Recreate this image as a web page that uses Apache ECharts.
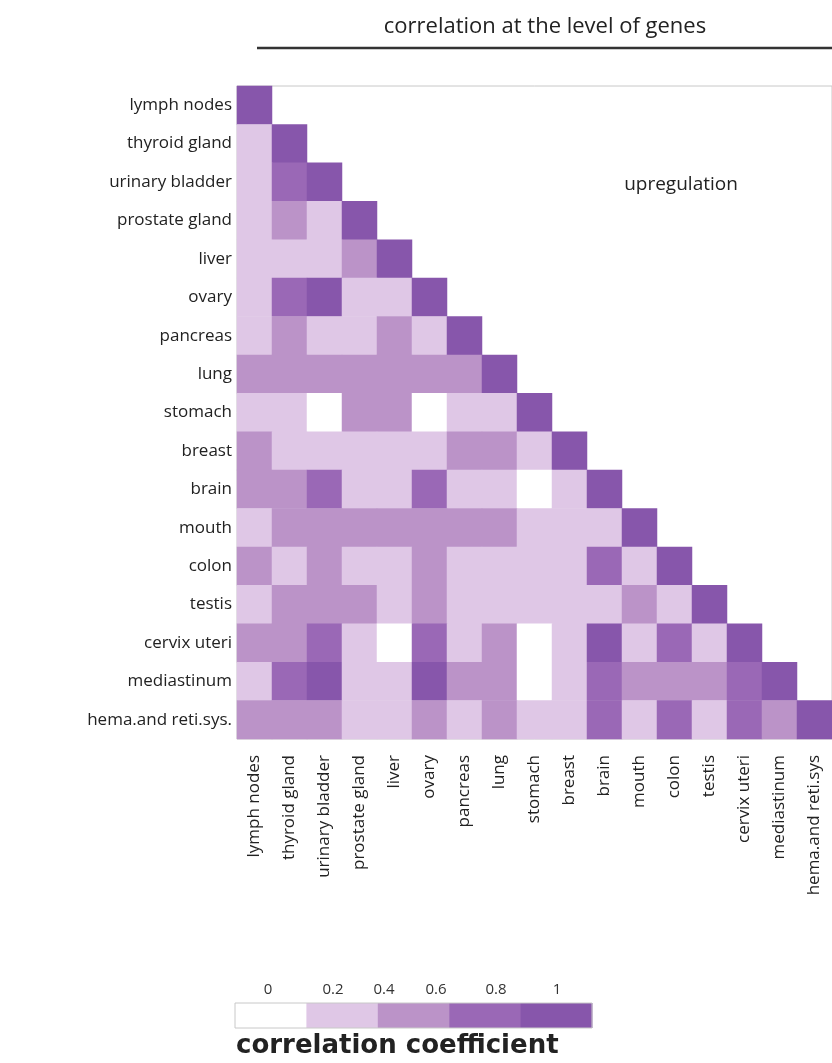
<!DOCTYPE html>
<html>
<head>
<meta charset="utf-8">
<script src="https://cdn.jsdelivr.net/npm/echarts@6/dist/echarts.min.js"></script>
<style>
html,body{margin:0;padding:0;background:#fff;}
#chart{width:832px;height:1063px;}
</style>
</head>
<body>
<div id="chart"></div>
<script>
// ---- categories ----
const rowLabels = ['lymph nodes','thyroid gland','urinary bladder','prostate gland','liver','ovary','pancreas','lung','stomach','breast','brain','mouth','colon','testis','cervix uteri','mediastinum','hema.and reti.sys.'];
const colLabels = ['lymph nodes','thyroid gland','urinary bladder','prostate gland','liver','ovary','pancreas','lung','stomach','breast','brain','mouth','colon','testis','cervix uteri','mediastinum','hema.and reti.sys'];

// ---- correlation values (lower triangle, row by row, read as bin centres) ----
const lymphNodes     = [1];
const thyroidGland   = [0.3, 1];
const urinaryBladder = [0.3, 0.7, 1];
const prostateGland  = [0.3, 0.5, 0.3, 1];
const liver          = [0.3, 0.3, 0.3, 0.5, 1];
const ovary          = [0.3, 0.7, 0.9, 0.3, 0.3, 1];
const pancreas       = [0.3, 0.5, 0.3, 0.3, 0.5, 0.3, 1];
const lung           = [0.5, 0.5, 0.5, 0.5, 0.5, 0.5, 0.5, 1];
const stomach        = [0.3, 0.3, 0.1, 0.5, 0.5, 0.1, 0.3, 0.3, 1];
const breast         = [0.5, 0.3, 0.3, 0.3, 0.3, 0.3, 0.5, 0.5, 0.3, 1];
const brain          = [0.5, 0.5, 0.7, 0.3, 0.3, 0.7, 0.3, 0.3, 0.1, 0.3, 1];
const mouth          = [0.3, 0.5, 0.5, 0.5, 0.5, 0.5, 0.5, 0.5, 0.3, 0.3, 0.3, 1];
const colon          = [0.5, 0.3, 0.5, 0.3, 0.3, 0.5, 0.3, 0.3, 0.3, 0.3, 0.7, 0.3, 1];
const testis         = [0.3, 0.5, 0.5, 0.5, 0.3, 0.5, 0.3, 0.3, 0.3, 0.3, 0.3, 0.5, 0.3, 1];
const cervixUteri    = [0.5, 0.5, 0.7, 0.3, 0.1, 0.7, 0.3, 0.5, 0.1, 0.3, 0.9, 0.3, 0.7, 0.3, 1];
const mediastinum    = [0.3, 0.7, 0.9, 0.3, 0.3, 0.9, 0.5, 0.5, 0.1, 0.3, 0.7, 0.5, 0.5, 0.5, 0.7, 1];
const hemaRetiSys    = [0.5, 0.5, 0.5, 0.3, 0.3, 0.5, 0.3, 0.5, 0.3, 0.3, 0.7, 0.3, 0.7, 0.3, 0.7, 0.5, 1];

const rows = [lymphNodes, thyroidGland, urinaryBladder, prostateGland, liver, ovary, pancreas, lung,
  stomach, breast, brain, mouth, colon, testis, cervixUteri, mediastinum, hemaRetiSys];

// ---- colour scale ----
const binEdges    = [0, 0.2, 0.4, 0.6, 0.8, 1];
const binColors   = ['#ffffff', '#dfc7e6', '#bb93c8', '#9a68b6', '#8756ab'];
const legendTicks = ['0', '0.2', '0.4', '0.6', '0.8', '1'];

const data = [];
rows.forEach((r, i) => r.forEach((v, j) => data.push([j, i, v])));

const pieces = binColors.map((c, k) => ({
  gte: binEdges[k], lt: k === binColors.length - 1 ? 1.0001 : binEdges[k + 1], color: c
}));

const FONT = '"Open Sans", Lato, sans-serif';

// legend graphics (layout only)
const legX = 235, legY = 1003, legW = 357, legH = 25;
const blockW = legW / binColors.length;
const legendGraphics = [];
binColors.forEach((c, k) => {
  legendGraphics.push({ type: 'rect', shape: { x: legX + k * blockW, y: legY, width: blockW + 0.5, height: legH },
    style: { fill: c } });
});
legendGraphics.push({ type: 'rect', shape: { x: legX, y: legY, width: legW, height: legH },
  style: { fill: 'none', stroke: '#c8c8c8', lineWidth: 1 } });
const tickX = [268, 333, 384, 436, 496, 557];
legendTicks.forEach((t, k) => {
  legendGraphics.push({ type: 'text', x: tickX[k], y: 990,
    style: { text: t, fill: '#333', font: '15px ' + FONT, textAlign: 'center', textVerticalAlign: 'middle' } });
});

const chart = echarts.init(document.getElementById('chart'), null, { renderer: 'canvas' });
chart.setOption({
  animation: false,
  backgroundColor: '#fff',
  grid: { left: 237, right: 0, top: 86, bottom: 324, show: true, borderColor: '#c8c8c8', borderWidth: 1 },
  xAxis: {
    type: 'category', data: colLabels,
    axisLine: { show: false }, axisTick: { show: false }, splitLine: { show: false },
    axisLabel: { rotate: 90, margin: 16, color: '#222', fontSize: 17, fontFamily: FONT, interval: 0 }
  },
  yAxis: {
    type: 'category', data: rowLabels, inverse: true,
    axisLine: { show: false }, axisTick: { show: false }, splitLine: { show: false },
    axisLabel: { margin: 5, color: '#222', fontSize: 17, fontFamily: FONT, interval: 0 }
  },
  visualMap: { type: 'piecewise', show: false, dimension: 2, pieces: pieces },
  series: [{
    type: 'heatmap', data: data,
    itemStyle: { borderWidth: 0 },
    emphasis: { disabled: true }
  }],
  graphic: [
    { type: 'text', x: 545, y: 27,
      style: { text: 'correlation at the level of genes', fill: '#222', font: '22px ' + FONT, textAlign: 'center', textVerticalAlign: 'middle' } },
    { type: 'line', shape: { x1: 257, y1: 48, x2: 832, y2: 48 }, style: { stroke: '#333', lineWidth: 2.5 } },
    { type: 'text', x: 681, y: 185,
      style: { text: 'upregulation', fill: '#222', font: '19px ' + FONT, textAlign: 'center', textVerticalAlign: 'middle' } },
    ...legendGraphics,
    { type: 'text', x: 236, y: 1046,
      style: { text: 'correlation coefficient', fill: '#222', font: 'bold 26px "DejaVu Sans", sans-serif', textAlign: 'left', textVerticalAlign: 'middle' } }
  ]
});
</script>
</body>
</html>
